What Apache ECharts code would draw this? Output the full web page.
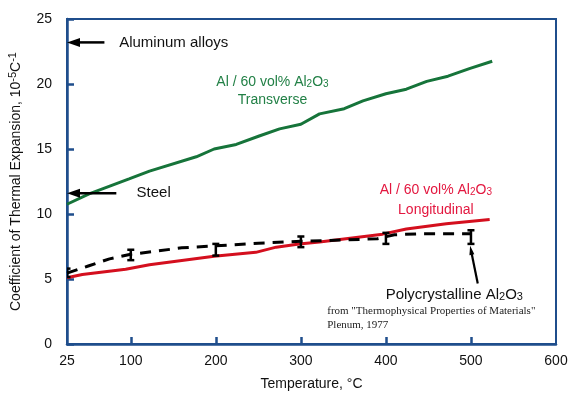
<!DOCTYPE html>
<html>
<head>
<meta charset="utf-8">
<script src="https://cdn.jsdelivr.net/npm/echarts@6/dist/echarts.min.js"></script>
<style>
  html, body { margin: 0; padding: 0; background: #fff; }
  #chart { width: 569px; height: 395px; }
</style>
</head>
<body>
<div id="chart"></div>
<script>
// Axis ticks and labels (temperature, °C)
const xTickLabels = [25, 100, 200, 300, 400, 500, 600];
const xTickMarks = [100, 200, 300, 400, 500];

// Al / 60 vol% Al2O3, transverse direction: [temperature, CTE]
const transverse = [
  [25, 10.75], [51, 11.55], [98, 12.7], [122, 13.3], [177, 14.4], [198, 15.0],
  [224, 15.35], [251, 16.0], [275, 16.55], [300, 16.9], [322, 17.7], [351, 18.1],
  [373, 18.7], [400, 19.25], [424, 19.6], [448, 20.2], [473, 20.6], [499, 21.2],
  [525, 21.75]
];

// Al / 60 vol% Al2O3, longitudinal direction
const longitudinal = [
  [25, 5.1], [43, 5.35], [94, 5.75], [122, 6.1], [198, 6.75], [247, 7.05],
  [271, 7.45], [298, 7.7], [322, 7.85], [396, 8.45], [424, 8.85], [471, 9.25],
  [522, 9.58]
];

// Polycrystalline Al2O3 reference curve
const polycrystalline = [
  [25, 5.45], [50, 6.0], [75, 6.55], [100, 6.9], [125, 7.1], [160, 7.4],
  [200, 7.55], [250, 7.75], [300, 7.9], [350, 8.0], [390, 8.1], [410, 8.4],
  [440, 8.48], [500, 8.48]
];

// Scatter bands on the Al2O3 data: [temperature, low, high]
const aluminaErrorBars = [
  [25, 5.15, 5.8], [100, 6.45, 7.25], [200, 6.8, 7.7], [300, 7.45, 8.27],
  [400, 7.7, 8.55], [500, 7.7, 8.75]
];

// Reference values marked on the CTE axis
const aluminumAlloysCTE = 23.2;
const steelCTE = 11.6;

const AXIS_BLUE = '#1f4e8c';
const GREEN = '#16743a';
const GREEN_TEXT = '#228046';
const RED = '#d40f1e';
const RED_TEXT = '#e3173f';
const SANS = '"Liberation Sans", Arial, Helvetica, sans-serif';
const SERIF = '"Liberation Serif", "Times New Roman", serif';

const chart = echarts.init(document.getElementById('chart'), null, { renderer: 'canvas' });

const subRich = {
  sub: { fontSize: 10, lineHeight: 10, verticalAlign: 'bottom', fontFamily: SANS },
  sup: { fontSize: 10, lineHeight: 10, verticalAlign: 'top', fontFamily: SANS }
};

const option = {
  animation: false,
  backgroundColor: '#fff',
  grid: {
    left: 67, right: 13, top: 19, bottom: 51,
    show: true, borderColor: AXIS_BLUE, borderWidth: 2,
    outerBoundsMode: 'none'
  },
  xAxis: {
    type: 'value', min: 25, max: 600,
    name: 'Temperature, °C', nameLocation: 'middle', nameGap: 33,
    nameTextStyle: { fontFamily: SANS, fontSize: 14, color: '#111' },
    axisLine: { lineStyle: { color: AXIS_BLUE, width: 2.5 } },
    axisTick: { inside: true, length: 7, customValues: xTickMarks, lineStyle: { color: AXIS_BLUE, width: 2.5 } },
    axisLabel: { customValues: xTickLabels, fontFamily: SANS, fontSize: 14, color: '#111', margin: 10 },
    splitLine: { show: false }
  },
  yAxis: {
    type: 'value', min: 0, max: 25, interval: 5,
    name: 'Coefficient of Thermal Expansion, 10{sup|-5}C{sup|-1}',
    nameLocation: 'middle', nameGap: 40, nameRotate: 90,
    nameTextStyle: { fontFamily: SANS, fontSize: 14, color: '#111', lineHeight: 18, rich: {
      sup: { fontSize: 11, lineHeight: 11, verticalAlign: 'top', fontFamily: SANS }
    } },
    axisLine: { lineStyle: { color: AXIS_BLUE, width: 2.5 } },
    axisTick: { inside: true, length: 7, lineStyle: { color: AXIS_BLUE, width: 2.5 } },
    axisLabel: { fontFamily: SANS, fontSize: 14, color: '#111', margin: 15 },
    splitLine: { show: false }
  },
  series: [
    {
      name: 'Transverse', type: 'line', data: transverse, showSymbol: false,
      lineStyle: { color: GREEN, width: 3 }, z: 3
    },
    {
      name: 'Longitudinal', type: 'line', data: longitudinal, showSymbol: false,
      lineStyle: { color: RED, width: 3 }, z: 3
    },
    {
      name: 'Polycrystalline Al2O3', type: 'line', data: polycrystalline, showSymbol: false,
      lineStyle: { color: '#000', width: 3, type: [11, 8] }, z: 4
    },
    {
      name: 'Al2O3 scatter', type: 'custom', data: aluminaErrorBars, clip: true, z: 5,
      encode: { x: 0, y: [1, 2] },
      renderItem: function (params, api) {
        const x = api.value(0);
        const lo = api.coord([x, api.value(1)]);
        const hi = api.coord([x, api.value(2)]);
        const w = 3.5;
        const style = { stroke: '#000', lineWidth: 2.5, fill: null };
        return {
          type: 'group',
          children: [
            { type: 'line', shape: { x1: lo[0], y1: lo[1], x2: hi[0], y2: hi[1] }, style: style },
            { type: 'line', shape: { x1: lo[0] - w, y1: lo[1], x2: lo[0] + w, y2: lo[1] }, style: style },
            { type: 'line', shape: { x1: hi[0] - w, y1: hi[1], x2: hi[0] + w, y2: hi[1] }, style: style }
          ]
        };
      }
    }
  ]
};

chart.setOption(option);

// Annotations, placed in data space and converted to pixels
function px(x, y) {
  return chart.convertToPixel({ xAxisIndex: 0, yAxisIndex: 0 }, [x, y]);
}

function arrow(tipData, tailData, headLen, headHalf, width) {
  const tip = px(tipData[0], tipData[1]);
  const tail = px(tailData[0], tailData[1]);
  const dx = tail[0] - tip[0], dy = tail[1] - tip[1];
  const len = Math.sqrt(dx * dx + dy * dy);
  const ux = dx / len, uy = dy / len;
  const bx = tip[0] + ux * headLen, by = tip[1] + uy * headLen;
  return [
    {
      type: 'line', z: 20,
      shape: { x1: tip[0] + ux * (headLen - 2), y1: tip[1] + uy * (headLen - 2), x2: tail[0], y2: tail[1] },
      style: { stroke: '#000', lineWidth: width }
    },
    {
      type: 'polygon', z: 20,
      shape: { points: [tip, [bx - uy * headHalf, by + ux * headHalf], [bx + uy * headHalf, by - ux * headHalf]] },
      style: { fill: '#000' }
    }
  ];
}

function label(x, y, text, opts) {
  const p = px(x, y);
  return {
    type: 'text', z: 20, x: p[0], y: p[1],
    style: Object.assign({
      text: text, fill: '#111', font: '15px ' + SANS,
      align: 'left', verticalAlign: 'middle', rich: subRich
    }, opts || {})
  };
}

const richGreen = {
  sub: Object.assign({}, subRich.sub, { fill: GREEN_TEXT }),
  sup: subRich.sup
};
const richRed = {
  sub: Object.assign({}, subRich.sub, { fill: RED_TEXT }),
  sup: subRich.sup
};
const richBlack = {
  sub: Object.assign({}, subRich.sub, { fill: '#111', fontSize: 11, lineHeight: 11 }),
  sup: subRich.sup
};

const graphics = []
  .concat(arrow([25, aluminumAlloysCTE], [69, aluminumAlloysCTE], 13, 4.5, 2.5))
  .concat(arrow([25, steelCTE], [83, steelCTE], 13, 4.5, 2.5))
  .concat(arrow([499, 7.55], [508, 4.65], 9, 2.5, 2.2))
  .concat([
    label(86.3, aluminumAlloysCTE, 'Aluminum alloys'),
    label(106.8, steelCTE, 'Steel'),
    label(266.6, 20.15, 'Al / 60 vol% Al{sub|2}O{sub|3}', { fill: GREEN_TEXT, font: '14px ' + SANS, align: 'center', rich: richGreen }),
    label(266.6, 18.73, 'Transverse', { fill: GREEN_TEXT, font: '14px ' + SANS, align: 'center' }),
    label(458.7, 11.86, 'Al / 60 vol% Al{sub|2}O{sub|3}', { fill: RED_TEXT, font: '14px ' + SANS, align: 'center', rich: richRed }),
    label(458.7, 10.32, 'Longitudinal', { fill: RED_TEXT, font: '14px ' + SANS, align: 'center' }),
    label(399.7, 3.81, 'Polycrystalline Al{sub|2}O{sub|3}', { rich: richBlack }),
    label(331, 2.52, 'from "Thermophysical Properties of Materials"', { font: '11px ' + SERIF, fill: '#222' }),
    label(331, 1.45, 'Plenum, 1977', { font: '11px ' + SERIF, fill: '#222' })
  ]);

chart.setOption({ graphic: { elements: graphics } });
</script>
</body>
</html>
